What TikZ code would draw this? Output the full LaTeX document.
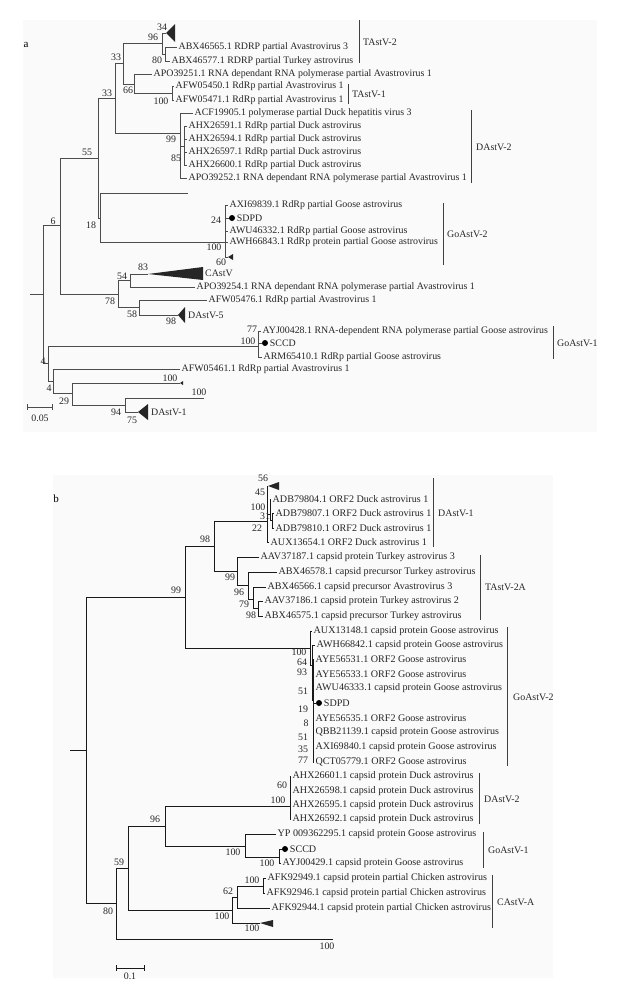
\documentclass[tikz,border=0pt]{standalone}
\usepackage{fontspec}
\setmainfont{Liberation Serif}
\usetikzlibrary{positioning}
\newcommand\tsz{\fontsize{9.9}{11}\selectfont}
\newcommand\tszb{\fontsize{10.1}{11}\selectfont}

\begin{document}
\begin{tikzpicture}[x=1pt, y=-1pt,
  br/.style={draw=black!70, line width=0.8pt},
  brb/.style={draw=black!90, line width=0.8pt},
  tip/.style={anchor=west, inner sep=1.5pt, font=\tsz, text=black!85},
  tipb/.style={tip, font=\tszb},
  bs/.style={inner sep=0pt, font=\tsz, text=black!85},
  grp/.style={anchor=west, inner sep=0pt, font=\tsz, text=black!85},
  bar/.style={draw=black!75, line width=0.9pt},
  tri/.style={fill=black!85},
  dot/.style={circle, fill=black, inner sep=0pt, minimum size=6pt}]
\useasboundingbox (0,0) rectangle (619,996);
\fill[black!2] (23,20) rectangle (597,432);
\fill[black!2] (53,475) rectangle (553,978);

\node[inner sep=0pt, font=\fontsize{11}{12}\selectfont] (pa) at (26,45) {a};
\coordinate (stubA) at (30,294); \coordinate (rootA) at (43,294);
\coordinate (a6) at (60,225); \coordinate (a55) at (98,158); \coordinate (a33l) at (115,98);
\coordinate (a33u) at (123,63); \coordinate (a96) at (162,43); \coordinate (a80) at (165,54);
\coordinate (a66) at (134,84); \coordinate (a100) at (172,93); \coordinate (adav2) at (180,133);
\coordinate (a99) at (184,146); \coordinate (a18) at (100,218); \coordinate (agov2) at (225,242);
\coordinate (a78) at (118,294); \coordinate (a54) at (130,280); \coordinate (a58) at (139,307);
\coordinate (a4a) at (48,363); \coordinate (a4b) at (53,381); \coordinate (a29) at (72,393);
\coordinate (a94) at (125,405); \coordinate (agov1) at (258,346);
\coordinate (tA2) at (166,33); \coordinate (tGo) at (228,257); \coordinate (tC) at (148,274);
\coordinate (tD5) at (178,315); \coordinate (tS) at (180,383); \coordinate (tD1) at (138,412);
\coordinate (lA1) at (188,193); \coordinate (lA2) at (204,398);

\node[tip] (abx65) at (177,47) {ABX46565.1 RDRP partial Avastrovirus 3};
\node[tip] (abx77) at (170,61) {ABX46577.1 RDRP partial Turkey astrovirus};
\node[tip] (apo51) at (152,74) {APO39251.1 RNA dependant RNA polymerase partial Avastrovirus 1};
\node[tip] (afw50) at (174,86) {AFW05450.1 RdRp partial Avastrovirus 1};
\node[tip] (afw71) at (174,100) {AFW05471.1 RdRp partial Avastrovirus 1};
\node[tip] (acf05) at (193,113) {ACF19905.1 polymerase partial Duck hepatitis virus 3};
\node[tip] (ahx91) at (187,126) {AHX26591.1 RdRp partial Duck astrovirus};
\node[tip] (ahx94) at (187,139) {AHX26594.1 RdRp partial Duck astrovirus};
\node[tip] (ahx97) at (187,152) {AHX26597.1 RdRp partial Duck astrovirus};
\node[tip] (ahx00) at (187,165) {AHX26600.1 RdRp partial Duck astrovirus};
\node[tip] (apo52) at (187,178) {APO39252.1 RNA dependant RNA polymerase partial Avastrovirus 1};
\node[tip] (axi39) at (228,205) {AXI69839.1 RdRp partial Goose astrovirus};
\node[dot] (sdpdA) at (232,218) {}; \node[tip, right=0pt of sdpdA] (sdpdAt) {SDPD};
\node[tip] (awu32) at (228,231) {AWU46332.1 RdRp partial Goose astrovirus};
\node[tip] (awh43) at (228,242) {AWH66843.1 RdRp protein partial Goose astrovirus};
\node[tip] (apo54) at (195,287) {APO39254.1 RNA dependant RNA polymerase partial Avastrovirus 1};
\node[tip] (afw76) at (207,300) {AFW05476.1 RdRp partial Avastrovirus 1};
\node[tip] (ayj28) at (261,331) {AYJ00428.1 RNA-dependent RNA polymerase partial Goose astrovirus};
\node[dot] (sccdA) at (265,343) {}; \node[tip, right=0pt of sccdA] (sccdAt) {SCCD};
\node[tip] (arm10) at (262,357) {ARM65410.1 RdRp partial Goose astrovirus};
\node[tip] (afw61) at (180,369) {AFW05461.1 RdRp partial Avastrovirus 1};

\draw[br] (stubA) -- (rootA);
\foreach \p/\c in {rootA/a6, rootA/a4a, a6/a55, a6/a78, a55/a33l, a55/a18, a33l/a33u, a33l/adav2,
  a33u/a96, a33u/a66, a96/tA2, a96/a80, a80/abx65, a80/abx77, a66/apo51, a66/a100, a100/afw50, a100/afw71,
  adav2/acf05, adav2/a99, adav2/apo52, a99/ahx91, a99/ahx94, a99/ahx97, a99/ahx00,
  a18/lA1, a18/agov2, agov2/axi39, agov2/sdpdA, agov2/awu32, agov2/awh43, agov2/tGo,
  a78/a54, a78/a58, a54/tC, a54/apo54, a58/afw76, a58/tD5,
  a4a/agov1, a4a/a4b, agov1/ayj28, agov1/sccdA, agov1/arm10, a4b/afw61, a4b/a29, a29/tS, a29/a94, a94/lA2, a94/tD1}
  \draw[br] (\p) |- (\c);
\fill[tri] (tA2) -- (175,24) -- (175,42) -- cycle;
\fill[tri] (tGo) -- (233,254) -- (233,260) -- cycle;
\fill[tri] (tC) -- (203,267) -- (203,280) -- cycle;
\fill[tri] (tD5) -- (185,307) -- (185,323) -- cycle;
\fill[tri] (tS) -- (183,381) -- (183,385) -- cycle;
\fill[tri] (tD1) -- (148,404) -- (148,420) -- cycle;
\node[grp] (gC) at (205,273) {CAstV};
\node[grp] (gD5) at (188,315) {DAstV-5};
\node[grp] (gD1) at (151,412) {DAstV-1};

\foreach \t/\x/\y in {34/162/27, 96/153/37, 80/157/60, 33/116/57, 66/128/90, 33/107/93, 100/161/101, 55/87/152,
  99/171/139, 85/176/158, 6/53/221, 18/91/225, 24/216/220, 100/214/247, 60/221/262, 83/143/267, 54/122/276,
  78/110/301, 58/132/314, 98/171/321, 77/252/329, 100/248/341, 4/43/361, 4/49/388, 100/170/378, 100/199/392,
  29/64/401, 94/116/412, 75/132/420}
  \node[bs] at (\x,\y) {\t};

\draw[bar] (359,20) -- (359,63); \node[grp] (cTA2) at (363,42) {TAstV-2};
\draw[bar] (348,84) -- (348,104); \node[grp] (cTA1) at (352,94) {TAstV-1};
\draw[bar] (471,110) -- (471,183); \node[grp] (cDA2) at (476,147) {DAstV-2};
\draw[bar] (443,203) -- (443,265); \node[grp] (cGo2) at (447,234) {GoAstV-2};
\draw[bar] (553,326) -- (553,359); \node[grp] (cGo1) at (557,343) {GoAstV-1};

\draw[br] (27,407) -- (52,407); \draw[br] (27,404) -- (27,410); \draw[br] (52,404) -- (52,410);
\node[bs] (sA) at (40,418) {0.05};

\node[inner sep=0pt, font=\fontsize{11}{12}\selectfont] (pb) at (56,499) {b};
\coordinate (stubB) at (70,750); \coordinate (rootB) at (86,750);
\coordinate (b99) at (185,597); \coordinate (b98) at (214,546); \coordinate (bd1) at (267,521);
\coordinate (bd1a) at (270,514); \coordinate (bd1b) at (272,520);
\coordinate (bt99) at (237,571); \coordinate (bt96) at (248,585); \coordinate (bt79) at (253,599);
\coordinate (bt98) at (258,608); \coordinate (bg2) at (310,648); \coordinate (bg2b) at (312,665);
\coordinate (bg2c) at (313,700); \coordinate (bda2) at (290,806); \coordinate (b96) at (165,826);
\coordinate (bg1) at (245,846); \coordinate (bg1b) at (279,857); \coordinate (b59) at (128,868);
\coordinate (bca) at (232,910); \coordinate (b62) at (237,897); \coordinate (b100c) at (263,886);
\coordinate (b80) at (116,903); \coordinate (tB1) at (268,486); \coordinate (tCA) at (260,923);
\coordinate (lB) at (333,939);

\node[tipb] (adb04) at (271,499) {ADB79804.1 ORF2 Duck astrovirus 1};
\node[tipb] (adb07) at (274,513) {ADB79807.1 ORF2 Duck astrovirus 1};
\node[tipb] (adb10) at (274,528) {ADB79810.1 ORF2 Duck astrovirus 1};
\node[tipb] (aux54) at (269,542) {AUX13654.1 ORF2 Duck astrovirus 1};
\node[tipb] (aav87) at (259,557) {AAV37187.1 capsid protein Turkey astrovirus 3};
\node[tipb] (abx78) at (277,572) {ABX46578.1 capsid precursor Turkey astrovirus};
\node[tipb] (abx66) at (266,587) {ABX46566.1 capsid precursor Avastrovirus 3};
\node[tipb] (aav86) at (263,601) {AAV37186.1 capsid protein Turkey astrovirus 2};
\node[tipb] (abx75) at (263,616) {ABX46575.1 capsid precursor Turkey astrovirus};
\node[tipb] (aux48) at (312,631) {AUX13148.1 capsid protein Goose astrovirus};
\node[tipb] (awh42) at (315,645) {AWH66842.1 capsid protein Goose astrovirus};
\node[tipb] (aye31) at (314,659) {AYE56531.1 ORF2 Goose astrovirus};
\node[tipb] (aye33) at (314,674) {AYE56533.1 ORF2 Goose astrovirus};
\node[tipb] (awu33) at (314,688) {AWU46333.1 capsid protein Goose astrovirus};
\node[dot] (sdpdB) at (319,703) {}; \node[tipb, right=0pt of sdpdB] (sdpdBt) {SDPD};
\node[tipb] (aye35) at (314,718) {AYE56535.1 ORF2 Goose astrovirus};
\node[tipb] (qbb39) at (314,732) {QBB21139.1 capsid protein Goose astrovirus};
\node[tipb] (axi40) at (314,747) {AXI69840.1 capsid protein Goose astrovirus};
\node[tipb] (qct79) at (314,762) {QCT05779.1 ORF2 Goose astrovirus};
\node[tipb] (ahx01) at (291,776) {AHX26601.1 capsid protein Duck astrovirus};
\node[tipb] (ahx98) at (291,791) {AHX26598.1 capsid protein Duck astrovirus};
\node[tipb] (ahx95) at (291,805) {AHX26595.1 capsid protein Duck astrovirus};
\node[tipb] (ahx92) at (291,819) {AHX26592.1 capsid protein Duck astrovirus};
\node[tipb] (yp95) at (276,834) {YP 009362295.1 capsid protein Goose astrovirus};
\node[dot] (sccdB) at (285,849) {}; \node[tipb, right=0pt of sccdB] (sccdBt) {SCCD};
\node[tipb] (ayj29) at (281,863) {AYJ00429.1 capsid protein Goose astrovirus};
\node[tipb] (afk49) at (266,878) {AFK92949.1 capsid protein partial Chicken astrovirus};
\node[tipb] (afk46) at (265,893) {AFK92946.1 capsid protein partial Chicken astrovirus};
\node[tipb] (afk44) at (270,908) {AFK92944.1 capsid protein partial Chicken astrovirus};

\draw[brb] (stubB) -- (rootB);
\foreach \p/\c in {rootB/b99, rootB/b80, b99/b98, b99/bg2, b98/bd1, b98/bt99, bd1/tB1, bd1/bd1a, bd1/aux54,
  bd1a/adb04, bd1a/bd1b, bd1b/adb07, bd1b/adb10, bt99/aav87, bt99/bt96, bt96/abx78, bt96/bt79,
  bt79/abx66, bt79/bt98, bt98/aav86, bt98/abx75, bg2/aux48, bg2/bg2b, bg2b/awh42, bg2b/bg2c,
  bg2c/aye31, bg2c/aye33, bg2c/awu33, bg2c/sdpdB, bg2c/aye35, bg2c/qbb39, bg2c/axi40, bg2c/qct79,
  b80/b59, b80/lB, b59/b96, b59/bca, b96/bda2, b96/bg1, bda2/ahx01, bda2/ahx98, bda2/ahx95, bda2/ahx92,
  bg1/yp95, bg1/bg1b, bg1b/sccdB, bg1b/ayj29, bca/b62, bca/tCA, b62/b100c, b62/afk44, b100c/afk49, b100c/afk46}
  \draw[brb] (\p) |- (\c);
\fill[tri] (tB1) -- (279,482) -- (279,490) -- cycle;
\fill[tri] (tCA) -- (273,920) -- (273,927) -- cycle;

\foreach \t/\x/\y in {56/263/478, 45/260/492, 100/258/507, 31/265/516, 22/257/528, 98/205/539, 99/176/590,
  99/230/577, 96/239/592, 79/244/604, 98/251/615, 100/299/652, 64/302/662, 93/302/672, 51/303/691,
  19/303/709, 8/306/723, 51/303/737, 35/303/749, 77/303/760, 60/282/785, 100/278/800, 96/155/819,
  100/233/852, 100/267/863, 59/119/862, 100/252/880, 62/228/891, 100/222/916, 100/252/928, 80/108/911, 100/327/946}
  \node[bs] at (\x,\y) {\t};

\draw[bar] (433,478) -- (433,547); \node[grp] (cDB1) at (438,513) {DAstV-1};
\draw[bar] (480,555) -- (480,620); \node[grp] (cTB2) at (485,587) {TAstV-2A};
\draw[bar] (507,627) -- (507,766); \node[grp] (cGB2) at (513,697) {GoAstV-2};
\draw[bar] (479,773) -- (479,824); \node[grp] (cDB2) at (484,799) {DAstV-2};
\draw[bar] (483,832) -- (483,868); \node[grp] (cGB1) at (488,850) {GoAstV-1};
\draw[bar] (492,875) -- (492,928); \node[grp] (cCB) at (497,902) {CAstV-A};

\draw[brb] (116,968) -- (144,968); \draw[brb] (116,965) -- (116,971); \draw[brb] (144,965) -- (144,971);
\node[bs] (sB) at (130,976) {0.1};
\end{tikzpicture}
\end{document}
